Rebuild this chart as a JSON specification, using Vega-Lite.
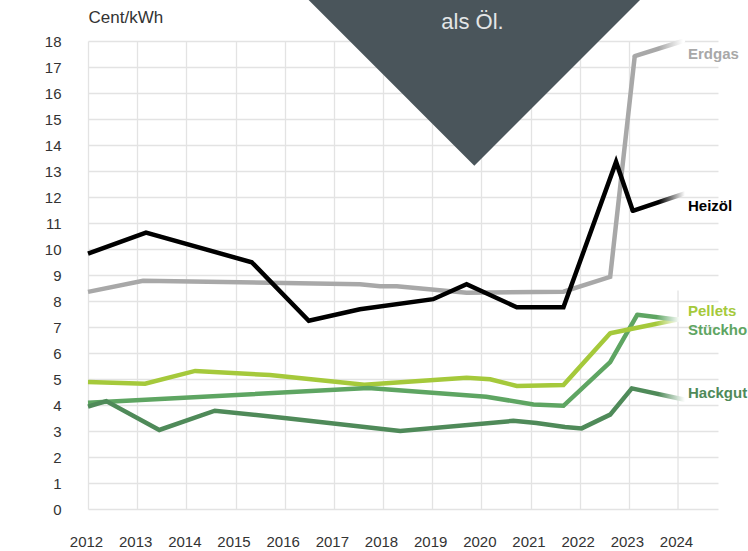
{
  "$schema": "https://vega.github.io/schema/vega-lite/v6.json",
  "width": 630,
  "height": 468,
  "autosize": {"type": "none"},
  "padding": {"left": 88, "top": 41, "right": 30, "bottom": 42},
  "background": "white",
  "config": {"view": {"stroke": null}, "font": "Liberation Sans"},
  "datasets": {
    "lines": [
      {"s": "Erdgas", "part": "main", "x": 2012, "v": 8.35},
      {"s": "Erdgas", "part": "main", "x": 2013.12, "v": 8.78},
      {"s": "Erdgas", "part": "main", "x": 2017.53, "v": 8.64},
      {"s": "Erdgas", "part": "main", "x": 2017.94, "v": 8.57},
      {"s": "Erdgas", "part": "main", "x": 2018.28, "v": 8.57},
      {"s": "Erdgas", "part": "main", "x": 2019.7, "v": 8.32},
      {"s": "Erdgas", "part": "main", "x": 2021.67, "v": 8.36},
      {"s": "Erdgas", "part": "main", "x": 2022.62, "v": 8.93},
      {"s": "Erdgas", "part": "main", "x": 2023.12, "v": 17.42},
      {"s": "Erdgas", "part": "tail", "x": 2023.12, "v": 17.42},
      {"s": "Erdgas", "part": "tail", "x": 2024.1, "v": 18.0},
      {"s": "Heizöl", "part": "main", "x": 2012, "v": 9.82},
      {"s": "Heizöl", "part": "main", "x": 2013.18, "v": 10.63},
      {"s": "Heizöl", "part": "main", "x": 2015.33, "v": 9.49},
      {"s": "Heizöl", "part": "main", "x": 2016.49, "v": 7.24},
      {"s": "Heizöl", "part": "main", "x": 2017.53, "v": 7.68},
      {"s": "Heizöl", "part": "main", "x": 2019.02, "v": 8.07},
      {"s": "Heizöl", "part": "main", "x": 2019.7, "v": 8.65},
      {"s": "Heizöl", "part": "main", "x": 2020.72, "v": 7.76},
      {"s": "Heizöl", "part": "main", "x": 2021.67, "v": 7.76},
      {"s": "Heizöl", "part": "main", "x": 2022.74, "v": 13.35},
      {"s": "Heizöl", "part": "main", "x": 2023.08, "v": 11.47},
      {"s": "Heizöl", "part": "tail", "x": 2023.08, "v": 11.47},
      {"s": "Heizöl", "part": "tail", "x": 2024.14, "v": 12.14},
      {"s": "Pellets", "part": "main", "x": 2012, "v": 4.88},
      {"s": "Pellets", "part": "main", "x": 2013.16, "v": 4.82},
      {"s": "Pellets", "part": "main", "x": 2014.18, "v": 5.31},
      {"s": "Pellets", "part": "main", "x": 2015.7, "v": 5.15},
      {"s": "Pellets", "part": "main", "x": 2017.62, "v": 4.78},
      {"s": "Pellets", "part": "main", "x": 2019.7, "v": 5.05},
      {"s": "Pellets", "part": "main", "x": 2020.18, "v": 4.99},
      {"s": "Pellets", "part": "main", "x": 2020.72, "v": 4.73},
      {"s": "Pellets", "part": "main", "x": 2021.67, "v": 4.77},
      {"s": "Pellets", "part": "main", "x": 2022.62, "v": 6.76},
      {"s": "Pellets", "part": "tail", "x": 2022.62, "v": 6.76},
      {"s": "Pellets", "part": "tail", "x": 2024.04, "v": 7.31},
      {"s": "Stückholz", "part": "main", "x": 2012, "v": 4.09},
      {"s": "Stückholz", "part": "main", "x": 2017.7, "v": 4.65},
      {"s": "Stückholz", "part": "main", "x": 2020.1, "v": 4.32},
      {"s": "Stückholz", "part": "main", "x": 2021.06, "v": 4.02},
      {"s": "Stückholz", "part": "main", "x": 2021.67, "v": 3.97},
      {"s": "Stückholz", "part": "main", "x": 2022.62, "v": 5.65},
      {"s": "Stückholz", "part": "main", "x": 2023.17, "v": 7.47},
      {"s": "Stückholz", "part": "tail", "x": 2023.17, "v": 7.47},
      {"s": "Stückholz", "part": "tail", "x": 2024.04, "v": 7.27},
      {"s": "Hackgut", "part": "main", "x": 2012, "v": 3.94},
      {"s": "Hackgut", "part": "main", "x": 2012.37, "v": 4.15},
      {"s": "Hackgut", "part": "main", "x": 2013.45, "v": 3.04},
      {"s": "Hackgut", "part": "main", "x": 2014.58, "v": 3.78},
      {"s": "Hackgut", "part": "main", "x": 2016.04, "v": 3.49},
      {"s": "Hackgut", "part": "main", "x": 2018.35, "v": 3.0},
      {"s": "Hackgut", "part": "main", "x": 2020.65, "v": 3.39},
      {"s": "Hackgut", "part": "main", "x": 2021.12, "v": 3.31},
      {"s": "Hackgut", "part": "main", "x": 2021.7, "v": 3.15},
      {"s": "Hackgut", "part": "main", "x": 2022.04, "v": 3.1},
      {"s": "Hackgut", "part": "main", "x": 2022.62, "v": 3.63},
      {"s": "Hackgut", "part": "main", "x": 2023.06, "v": 4.64},
      {"s": "Hackgut", "part": "tail", "x": 2023.06, "v": 4.64},
      {"s": "Hackgut", "part": "tail", "x": 2024.14, "v": 4.2}
    ],
    "labels": [
      {"s": "Erdgas", "x": 2024.203, "v": 17.51, "t": "Erdgas"},
      {"s": "Heizöl", "x": 2024.203, "v": 11.65, "t": "Heizöl"},
      {"s": "Pellets", "x": 2024.203, "v": 7.62, "t": "Pellets"},
      {"s": "Stückholz", "x": 2024.203, "v": 6.88, "t": "Stückholz"},
      {"s": "Hackgut", "x": 2024.203, "v": 4.48, "t": "Hackgut"}
    ],
    "tri": [
      {"x": 2016.264, "v": 20, "v2": 20},
      {"x": 2019.857, "v": 20, "v2": 13.204},
      {"x": 2023.451, "v": 20, "v2": 20}
    ],
    "note": [{"x": 2019.82, "v": 18.47, "t": "als Öl."}],
    "grid24": [{"x": 2024, "v": 0, "v2": 8.4}]
  },
  "encoding": {
    "x": {
      "field": "x", "type": "quantitative",
      "scale": {"domain": [2012, 2024.813], "nice": false, "zero": false},
      "axis": {
        "values": [2012, 2013, 2014, 2015, 2016, 2017, 2018, 2019, 2020, 2021, 2022, 2023, 2024],
        "format": "d", "title": null, "domain": false, "ticks": false,
        "labelPadding": 25, "labelOffset": -2, "labelFontSize": 15, "labelColor": "#333333",
        "labelFlush": false, "labelOverlap": false,
        "gridColor": "#e3e3e3", "gridWidth": 1.3,
        "gridOpacity": {"condition": {"test": "datum.value == 2024", "value": 0}, "value": 1}
      }
    },
    "y": {
      "field": "v", "type": "quantitative",
      "scale": {"domain": [0, 18], "nice": false},
      "axis": {
        "values": [0, 1, 2, 3, 4, 5, 6, 7, 8, 9, 10, 11, 12, 13, 14, 15, 16, 17, 18],
        "title": "Cent/kWh", "titleAngle": 0, "titleAlign": "left", "titleBaseline": "alphabetic",
        "titleX": 0, "titleY": -19, "titleFontSize": 17, "titleFontWeight": "normal", "titleColor": "#333333",
        "domain": false, "ticks": false, "labelPadding": 27, "labelFontSize": 15, "labelColor": "#333333",
        "labelOverlap": false,
        "gridColor": "#e3e3e3", "gridWidth": 1.3
      }
    }
  },
  "layer": [
    {
      "data": {"name": "grid24"},
      "mark": {"type": "rule", "color": "#e3e3e3", "strokeWidth": 1.3},
      "encoding": {"y2": {"field": "v2"}}
    },
    {
      "data": {"name": "lines"},
      "transform": [{"filter": "datum.part == 'main'"}],
      "mark": {"type": "line", "strokeWidth": 4.5},
      "encoding": {
        "color": {
          "field": "s", "type": "nominal",
          "scale": {"domain": ["Erdgas", "Heizöl", "Pellets", "Stückholz", "Hackgut"],
                    "range": ["#a8a8a8", "#000000", "#a5c93b", "#5ea562", "#4f8a59"]},
          "legend": null
        }
      }
    },
    {
      "data": {"name": "lines"},
      "transform": [{"filter": "datum.part == 'tail' && datum.s == 'Erdgas'"}],
      "mark": {"type": "line", "strokeWidth": 4.5, "strokeCap": "round",
        "stroke": {"gradient": "linear", "x1": 0, "y1": 0, "x2": 1, "y2": 0,
          "stops": [{"offset": 0, "color": "#a8a8a8"}, {"offset": 0.5, "color": "#a8a8a8"}, {"offset": 1, "color": "#ffffff"}]}},
      "encoding": {}
    },
    {
      "data": {"name": "lines"},
      "transform": [{"filter": "datum.part == 'tail' && datum.s == 'Heizöl'"}],
      "mark": {"type": "line", "strokeWidth": 4.5, "strokeCap": "round",
        "stroke": {"gradient": "linear", "x1": 0, "y1": 0, "x2": 1, "y2": 0,
          "stops": [{"offset": 0, "color": "#000000"}, {"offset": 0.5, "color": "#000000"}, {"offset": 1, "color": "#ffffff"}]}},
      "encoding": {}
    },
    {
      "data": {"name": "lines"},
      "transform": [{"filter": "datum.part == 'tail' && datum.s == 'Pellets'"}],
      "mark": {"type": "line", "strokeWidth": 4.5, "strokeCap": "round",
        "stroke": {"gradient": "linear", "x1": 0, "y1": 0, "x2": 1, "y2": 0,
          "stops": [{"offset": 0, "color": "#a5c93b"}, {"offset": 0.65, "color": "#a5c93b"}, {"offset": 1, "color": "#ffffff"}]}},
      "encoding": {}
    },
    {
      "data": {"name": "lines"},
      "transform": [{"filter": "datum.part == 'tail' && datum.s == 'Stückholz'"}],
      "mark": {"type": "line", "strokeWidth": 4.5, "strokeCap": "round",
        "stroke": {"gradient": "linear", "x1": 0, "y1": 0, "x2": 1, "y2": 0,
          "stops": [{"offset": 0, "color": "#5ea562"}, {"offset": 0.45, "color": "#5ea562"}, {"offset": 1, "color": "#ffffff"}]}},
      "encoding": {}
    },
    {
      "data": {"name": "lines"},
      "transform": [{"filter": "datum.part == 'tail' && datum.s == 'Hackgut'"}],
      "mark": {"type": "line", "strokeWidth": 4.5, "strokeCap": "round",
        "stroke": {"gradient": "linear", "x1": 0, "y1": 0, "x2": 1, "y2": 0,
          "stops": [{"offset": 0, "color": "#4f8a59"}, {"offset": 0.5, "color": "#4f8a59"}, {"offset": 1, "color": "#ffffff"}]}},
      "encoding": {}
    },
    {
      "data": {"name": "tri"},
      "mark": {"type": "area", "color": "#4a555b", "clip": false},
      "encoding": {"y2": {"field": "v2"}}
    },
    {
      "data": {"name": "note"},
      "mark": {"type": "text", "fontSize": 22, "color": "#e4e6e7", "align": "center", "baseline": "alphabetic"},
      "encoding": {"text": {"field": "t"}}
    },
    {
      "data": {"name": "labels"},
      "mark": {"type": "text", "fontSize": 15, "fontWeight": "bold", "align": "left", "baseline": "middle"},
      "encoding": {
        "text": {"field": "t"},
        "color": {"field": "s", "type": "nominal", "legend": null}
      }
    }
  ]
}
